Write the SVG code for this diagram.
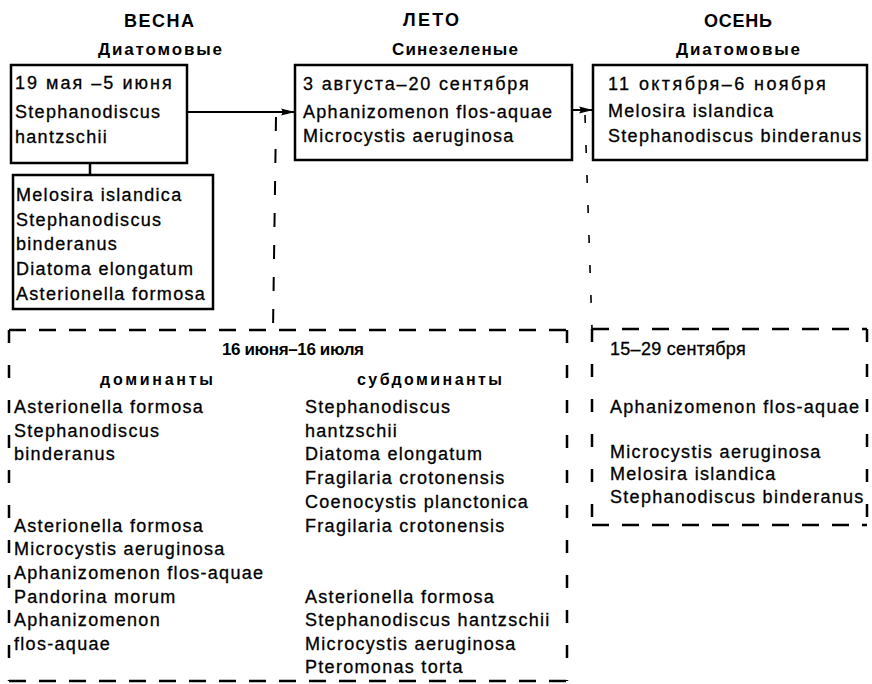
<svg xmlns="http://www.w3.org/2000/svg" width="872" height="684" viewBox="0 0 872 684">
<style>
.box{fill:none;stroke:#000;stroke-width:2.5}
.ln{fill:none;stroke:#000;stroke-width:2}
.dh{fill:none;stroke:#000;stroke-width:2.5;stroke-dasharray:17 13}
.dv{fill:none;stroke:#000;stroke-width:2.5;stroke-dasharray:13 22}
.dc{fill:none;stroke:#000;stroke-width:2;stroke-dasharray:14 18}
.dc2{fill:none;stroke:#000;stroke-width:1.6;stroke-dasharray:8 22}
text{font-family:"Liberation Sans",Arial,sans-serif;fill:#000}
.t{font-size:18px;letter-spacing:1.3px;stroke:#000;stroke-width:0.3}
.h{font-size:18px;font-weight:bold}
.s{font-size:17px;font-weight:bold}
.d{font-size:16px;font-weight:bold}
</style>
<defs>
<marker id="ah" markerUnits="userSpaceOnUse" markerWidth="16" markerHeight="12" refX="14" refY="6" orient="auto">
<path d="M0,2.5 L14,6 L0,9.5 Q3,6 0,2.5 Z" fill="#000"/>
</marker>
</defs>

<g id="headings">
<text class="h" x="159" y="27" text-anchor="middle" textLength="70">ВЕСНА</text>
<text class="s" x="160" y="55" text-anchor="middle" textLength="124">Диатомовые</text>
<text class="h" x="431" y="26" text-anchor="middle" textLength="56">ЛЕТО</text>
<text class="s" x="455" y="55" text-anchor="middle" textLength="126">Синезеленые</text>
<text class="h" x="738" y="27" text-anchor="middle" textLength="68">ОСЕНЬ</text>
<text class="s" x="738" y="55" text-anchor="middle" textLength="124">Диатомовые</text>
</g>

<g id="connectors">
<line class="ln" x1="187" y1="112" x2="295" y2="112" marker-end="url(#ah)"/>
<line class="ln" x1="572" y1="110" x2="593" y2="110" marker-end="url(#ah)"/>
<line class="box" x1="90" y1="163" x2="90" y2="175"/>
<line class="dc" x1="276" y1="117" x2="273" y2="330"/>
<line class="dc2" x1="585" y1="115" x2="592" y2="329"/>
</g>

<g id="spring-main">
<rect class="box" x="11" y="65" width="176" height="98"/>
<text class="t" x="15" y="89" textLength="158">19 мая –5 июня</text>
<text class="t" x="15" y="118">Stephanodiscus</text>
<text class="t" x="15" y="143">hantzschii</text>
</g>

<g id="spring-sub">
<rect class="box" x="13" y="175" width="200" height="134"/>
<text class="t" x="16" y="201">Melosira islandica</text>
<text class="t" x="16" y="226">Stephanodiscus</text>
<text class="t" x="16" y="250">binderanus</text>
<text class="t" x="16" y="275">Diatoma elongatum</text>
<text class="t" x="16" y="300">Asterionella formosa</text>
</g>

<g id="summer-main">
<rect class="box" x="295" y="65" width="277" height="95"/>
<text class="t" x="303" y="90" textLength="227">3 августа–20 сентября</text>
<text class="t" x="303" y="118">Aphanizomenon flos-aquae</text>
<text class="t" x="303" y="142">Microcystis aeruginosa</text>
</g>

<g id="autumn-main">
<rect class="box" x="593" y="65" width="274" height="95"/>
<text class="t" x="608" y="90" textLength="219">11 октября–6 ноября</text>
<text class="t" x="608" y="117">Melosira islandica</text>
<text class="t" x="608" y="142">Stephanodiscus binderanus</text>
</g>

<g id="summer-period">
<line class="dh" x1="9" y1="330" x2="568" y2="330"/>
<line class="dv" x1="9" y1="330" x2="9" y2="681"/>
<line class="dv" x1="567" y1="330" x2="567" y2="681"/>
<line class="dh" x1="9" y1="681" x2="568" y2="681"/>
<text class="s" x="222" y="355" textLength="142">16 июня–16 июля</text>
<text class="d" x="100" y="385" textLength="113">доминанты</text>
<text class="d" x="357" y="385" textLength="145">субдоминанты</text>
<text class="t" x="14" y="413">Asterionella formosa</text>
<text class="t" x="14" y="437">Stephanodiscus</text>
<text class="t" x="14" y="460">binderanus</text>
<text class="t" x="14" y="532">Asterionella formosa</text>
<text class="t" x="14" y="555">Microcystis aeruginosa</text>
<text class="t" x="14" y="579">Aphanizomenon flos-aquae</text>
<text class="t" x="14" y="603">Pandorina morum</text>
<text class="t" x="14" y="626">Aphanizomenon</text>
<text class="t" x="14" y="650">flos-aquae</text>
<text class="t" x="305" y="413">Stephanodiscus</text>
<text class="t" x="305" y="437">hantzschii</text>
<text class="t" x="305" y="460">Diatoma elongatum</text>
<text class="t" x="305" y="484">Fragilaria crotonensis</text>
<text class="t" x="305" y="508">Coenocystis planctonica</text>
<text class="t" x="305" y="532">Fragilaria crotonensis</text>
<text class="t" x="305" y="603">Asterionella formosa</text>
<text class="t" x="305" y="626">Stephanodiscus hantzschii</text>
<text class="t" x="305" y="650">Microcystis aeruginosa</text>
<text class="t" x="305" y="673">Pteromonas torta</text>
</g>

<g id="autumn-period">
<line class="dh" x1="592" y1="329" x2="867" y2="329"/>
<line class="dv" x1="592" y1="329" x2="592" y2="525"/>
<line class="dv" x1="867" y1="329" x2="867" y2="525"/>
<line class="dh" x1="592" y1="525" x2="867" y2="525"/>
<text class="t" x="610" y="355" textLength="137">15–29 сентября</text>
<text class="t" x="610" y="413">Aphanizomenon flos-aquae</text>
<text class="t" x="610" y="458">Microcystis aeruginosa</text>
<text class="t" x="610" y="480">Melosira islandica</text>
<text class="t" x="610" y="503">Stephanodiscus binderanus</text>
</g>
</svg>
